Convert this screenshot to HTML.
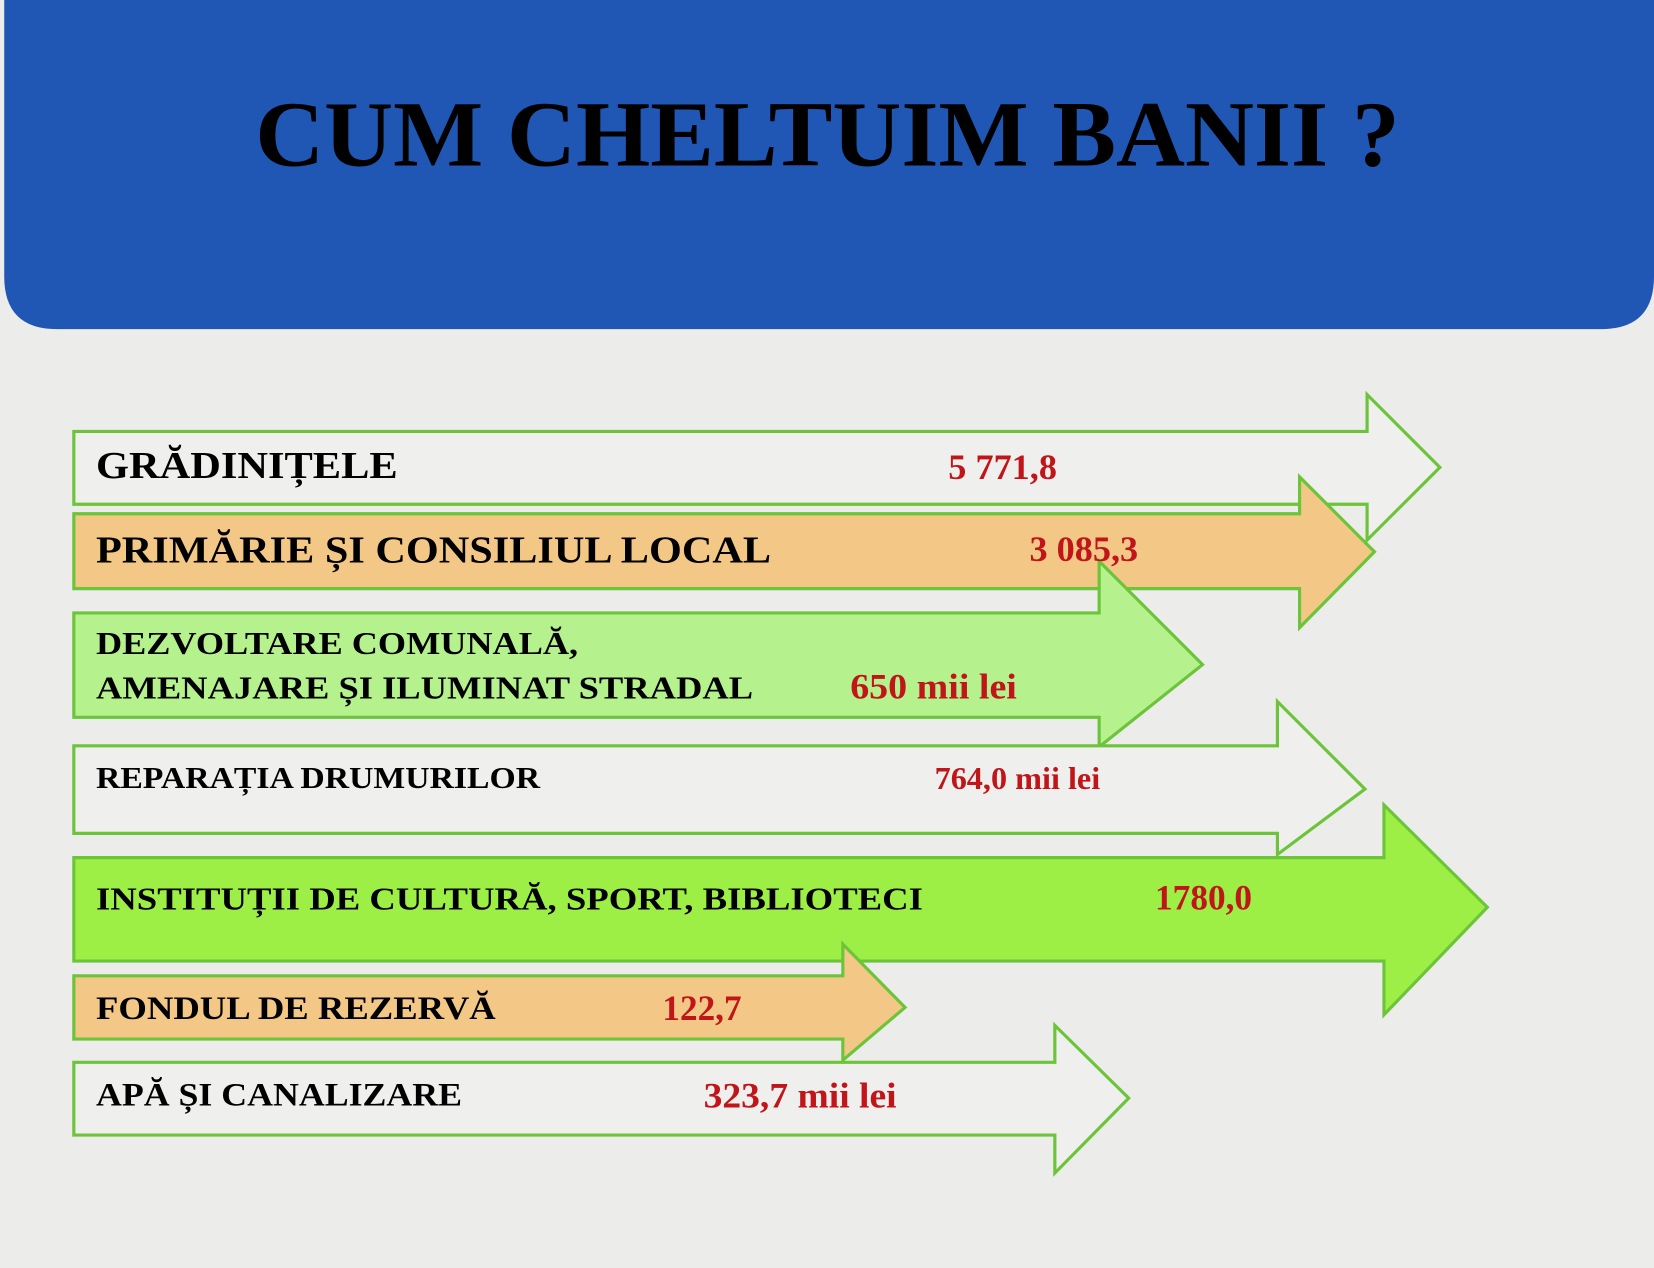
<!DOCTYPE html>
<html><head><meta charset="utf-8"><style>html,body{margin:0;padding:0;background:#ececea}svg{display:block}</style></head>
<body>
<svg width="1654" height="1268" viewBox="0 0 1568 1202" preserveAspectRatio="none" xmlns="http://www.w3.org/2000/svg">
<rect width="1568" height="1202" fill="#ececea"/>
<path d="M4 0 H1568 V262 Q1568 312 1518 312 H54 Q4 312 4 262 Z" fill="#2056b4"/>
<text x="242" y="157" font-family="Liberation Serif, serif" font-weight="bold" font-size="88" fill="#000" textLength="1085" lengthAdjust="spacingAndGlyphs">CUM CHELTUIM BANII ?</text>
<g stroke="#6cc43a" stroke-width="3" stroke-linejoin="miter">
<path d="M70 409 H1296 V374 L1365 443 L1296 512 V478 H70 Z" fill="#efefed"/>
<path d="M70 487 H1232 V452 L1303 523 L1232 595 V558 H70 Z" fill="#f3c886"/>
<path d="M70 581 H1042 V532 L1140 630 L1042 708 V680 H70 Z" fill="#b5f28e"/>
<path d="M70 707 H1211 V665 L1294 748 L1211 810 V790 H70 Z" fill="#efefed"/>
<path d="M70 813 H1312 V763 L1410 860 L1312 962 V911 H70 Z" fill="#9def45"/>
<path d="M70 925 H799 V895 L858 955 L799 1005 V985 H70 Z" fill="#f3c886"/>
<path d="M70 1007 H1000 V972 L1070 1041 L1000 1112 V1076 H70 Z" fill="#efefed"/>
</g>
<g font-family="Liberation Serif, serif" font-weight="bold" fill="#000" lengthAdjust="spacingAndGlyphs">
<text x="91" y="453" font-size="36" textLength="286" lengthAdjust="spacingAndGlyphs">GRĂDINIȚELE</text>
<text x="91" y="533" font-size="36" textLength="640" lengthAdjust="spacingAndGlyphs">PRIMĂRIE ȘI CONSILIUL LOCAL</text>
<text x="91" y="620" font-size="30" textLength="457" lengthAdjust="spacingAndGlyphs">DEZVOLTARE COMUNALĂ,</text>
<text x="91" y="662" font-size="30" textLength="623" lengthAdjust="spacingAndGlyphs">AMENAJARE ȘI ILUMINAT STRADAL</text>
<text x="91" y="747" font-size="29" textLength="421" lengthAdjust="spacingAndGlyphs">REPARAȚIA DRUMURILOR</text>
<text x="91" y="862" font-size="30" textLength="784" lengthAdjust="spacingAndGlyphs">INSTITUȚII DE CULTURĂ, SPORT, BIBLIOTECI</text>
<text x="91" y="966" font-size="31" textLength="379" lengthAdjust="spacingAndGlyphs">FONDUL DE REZERVĂ</text>
<text x="91" y="1048" font-size="31" textLength="347" lengthAdjust="spacingAndGlyphs">APĂ ȘI CANALIZARE</text>
</g>
<g font-family="Liberation Serif, serif" font-weight="bold" fill="#c0161a">
<text x="899" y="454" font-size="34" textLength="103" lengthAdjust="spacingAndGlyphs">5 771,8</text>
<text x="976" y="532" font-size="34" textLength="103" lengthAdjust="spacingAndGlyphs">3 085,3</text>
<text x="806" y="662" font-size="34" textLength="158" lengthAdjust="spacingAndGlyphs">650 mii lei</text>
<text x="886" y="748" font-size="30" textLength="157" lengthAdjust="spacingAndGlyphs">764,0 mii lei</text>
<text x="1095" y="862" font-size="34" textLength="92" lengthAdjust="spacingAndGlyphs">1780,0</text>
<text x="628" y="967" font-size="34" textLength="75" lengthAdjust="spacingAndGlyphs">122,7</text>
<text x="667" y="1050" font-size="34" textLength="183" lengthAdjust="spacingAndGlyphs">323,7 mii lei</text>
</g>
</svg>
</body></html>
